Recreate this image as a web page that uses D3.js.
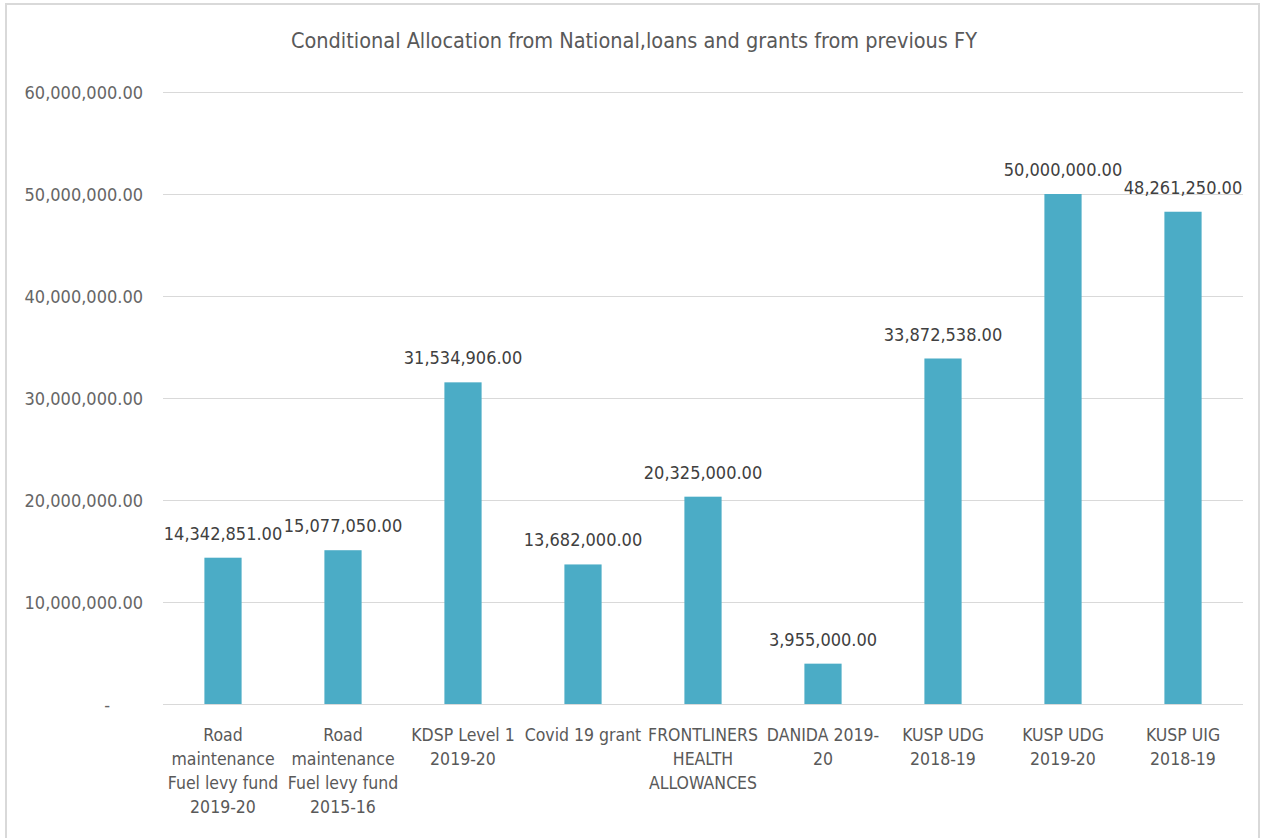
<!DOCTYPE html>
<html>
<head>
<meta charset="utf-8">
<script src="https://cdn.jsdelivr.net/npm/d3@7"></script>
<style>
  body { margin: 0; background: #fff; }
  text { font-family: "Liberation Sans Narrow", "DejaVu Sans Condensed", sans-serif; }
</style>
</head>
<body>
<svg id="chart" width="1267" height="838"></svg>
<script>
// chart data
var chartTitle = "Conditional Allocation from National,loans and grants from previous FY";
var categories = [
  ["Road", "maintenance", "Fuel levy fund", "2019-20"],
  ["Road", "maintenance", "Fuel levy fund", "2015-16"],
  ["KDSP Level 1", "2019-20"],
  ["Covid 19 grant"],
  ["FRONTLINERS", "HEALTH", "ALLOWANCES"],
  ["DANIDA 2019-", "20"],
  ["KUSP UDG", "2018-19"],
  ["KUSP UDG", "2019-20"],
  ["KUSP UIG", "2018-19"]
];
var amounts = [14342851, 15077050, 31534906, 13682000, 20325000, 3955000, 33872538, 50000000, 48261250];
var yTicks = [0, 10000000, 20000000, 30000000, 40000000, 50000000, 60000000];

var cfg = { left: 163, right: 1243, top: 92, bottom: 704 };
var svg = d3.select("#chart");

// frame around the chart
svg.append("rect")
  .attr("x", 6).attr("y", 4)
  .attr("width", 1253).attr("height", 850)
  .attr("fill", "#fff")
  .attr("stroke", "#d9d9d9")
  .attr("stroke-width", 2);

var idx = d3.range(amounts.length);
var x = d3.scaleBand().domain(idx).range([cfg.left, cfg.right]).paddingInner(0.69).paddingOuter(0.345);
var y = d3.scaleLinear().domain([0, 60000000]).range([cfg.bottom, cfg.top]);

var fmt = d3.format(",.2f");

// gridlines + y labels
var yAxis = d3.axisLeft(y)
  .tickValues(yTicks)
  .tickSize(-(cfg.right - cfg.left))
  .tickPadding(20)
  .tickFormat(function(d) { return d === 0 ? "-" : fmt(d); });

var gy = svg.append("g")
  .attr("transform", "translate(" + cfg.left + ",0)")
  .call(yAxis);
gy.select(".domain").remove();
gy.selectAll(".tick line").attr("stroke", "#d9d9d9");
gy.selectAll(".tick text")
  .attr("fill", "#666")
  .style("font-size", "18px")
  .attr("dy", "0.35em")
  .attr("x", function(d) { return d === 0 ? -53 : -20; });

// bars
svg.append("g").selectAll("rect")
  .data(idx)
  .enter()
  .append("rect")
  .attr("x", function(i) { return x(i); })
  .attr("y", function(i) { return y(amounts[i]); })
  .attr("width", x.bandwidth())
  .attr("height", function(i) { return y(0) - y(amounts[i]); })
  .attr("fill", "#4bacc6");

// value labels
svg.append("g").selectAll("text")
  .data(idx)
  .enter()
  .append("text")
  .attr("x", function(i) { return x(i) + x.bandwidth() / 2; })
  .attr("y", function(i) { return y(amounts[i]) - 18; })
  .attr("text-anchor", "middle")
  .attr("fill", "#404040")
  .style("font-size", "18px")
  .text(function(i) { return fmt(amounts[i]); });

// category labels
var gx = svg.append("g").selectAll("text")
  .data(idx)
  .enter()
  .append("text")
  .attr("text-anchor", "middle")
  .attr("fill", "#595959")
  .style("font-size", "17.5px");
gx.selectAll("tspan")
  .data(function(i) { return categories[i].map(function(s) { return { s: s, i: i }; }); })
  .enter()
  .append("tspan")
  .attr("x", function(d) { return x(d.i) + x.bandwidth() / 2; })
  .attr("y", function(d, k) { return cfg.bottom + 37 + k * 24; })
  .text(function(d) { return d.s; });

// title
svg.append("text")
  .attr("x", 634)
  .attr("y", 48)
  .attr("text-anchor", "middle")
  .attr("fill", "#595959")
  .style("font-size", "21.5px")
  .text(chartTitle);
</script>
</body>
</html>
